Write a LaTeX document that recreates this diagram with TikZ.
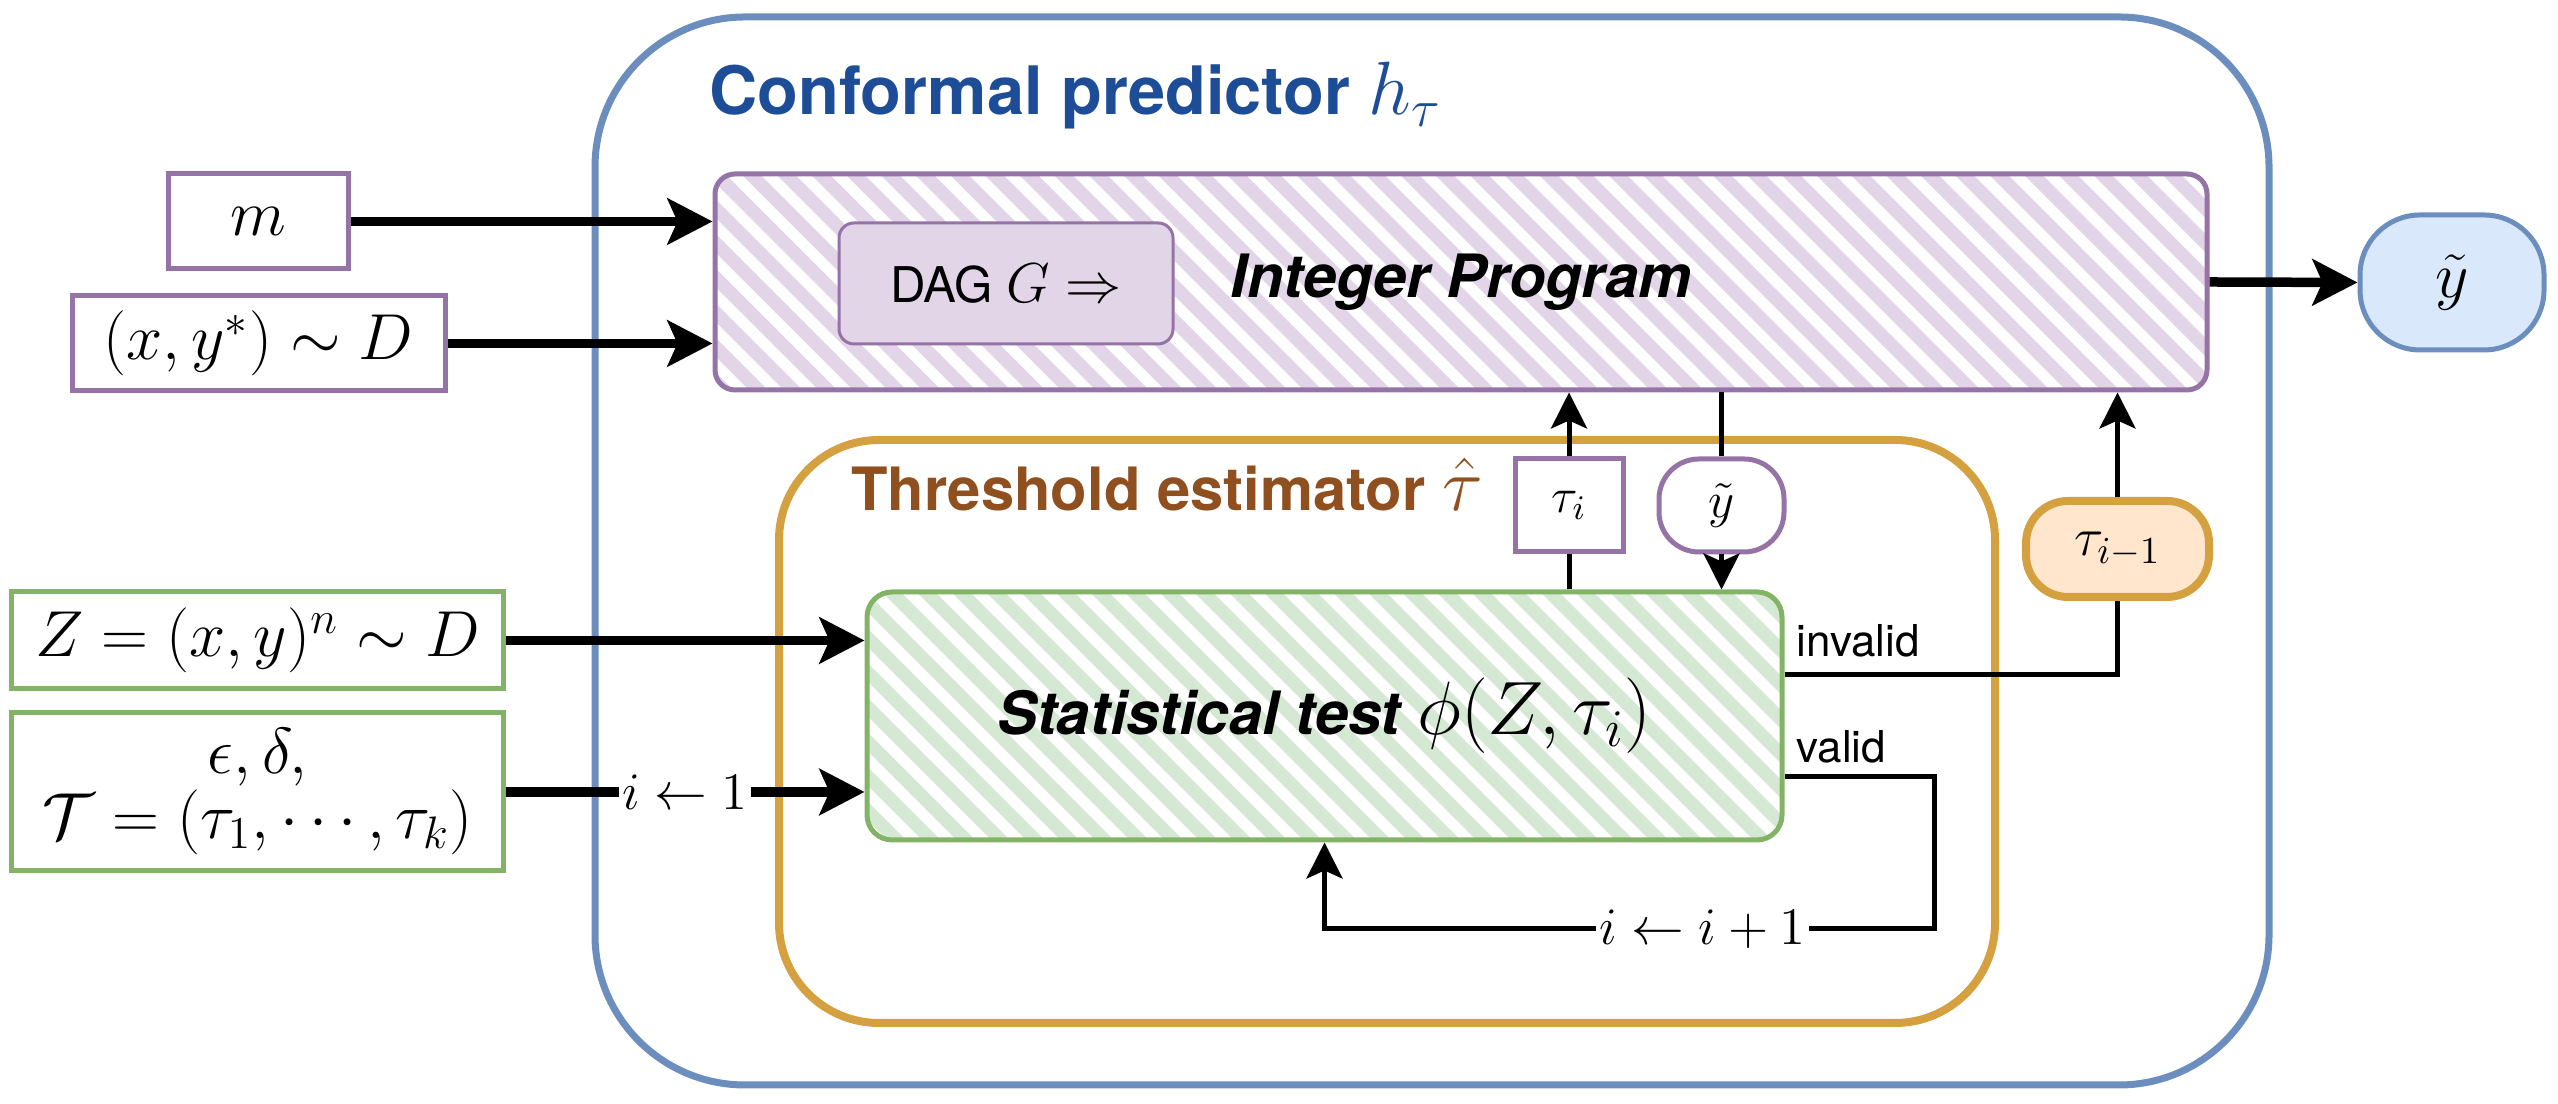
\RequirePackage{fix-cm}
\documentclass[tikz,border=0pt]{standalone}
\usepackage{fontspec}
\setsansfont{TeX Gyre Heros}
\usetikzlibrary{arrows.meta,patterns.meta}
\definecolor{bline}{HTML}{6C8EBF}
\definecolor{btitle}{HTML}{1E4D97}
\definecolor{yfill}{HTML}{DAE8FC}
\definecolor{pline}{HTML}{9673A6}
\definecolor{pfill}{HTML}{E1D5E7}
\definecolor{gline}{HTML}{82B366}
\definecolor{gfill}{HTML}{D5E8D4}
\definecolor{oline}{HTML}{D4A040}
\definecolor{otitle}{HTML}{8F4F1F}
\definecolor{tfill}{HTML}{FFE6CC}
\newcommand{\bigmath}[1]{{\fontsize{21.5}{24}\selectfont$#1$}}
\begin{document}
\begin{tikzpicture}[
        box/.style={draw, line width=0.05cm, inner sep=0pt},
        pbox/.style={box, draw=pline, fill=white},
        gbox/.style={box, draw=gline, fill=white},
        hatch/.style={preaction={fill=#1}, preaction={pattern={Lines[angle=-45,distance=0.245cm,line width=0.11cm]}, pattern color=white}},
        mathlbl/.style={font=\fontsize{18.5}{18.5}\selectfont},
        bigtxt/.style={font=\fontsize{17}{20}\selectfont\sffamily\bfseries\itshape},
        thk/.style={line width=0.095cm, -{Stealth[length=0.45cm,width=0.46cm,inset=0.1cm]}},
        thn/.style={line width=0.05cm},
        thna/.style={thn, -{Stealth[length=0.36cm,width=0.36cm,inset=0.08cm]}}]
        \useasboundingbox (0,0) rectangle (25.58,11.04);
        \draw [draw=bline, line width=0.07cm, rounded corners=1.5cm] (5.95,0.19) rectangle (22.69,10.87);
        \node [anchor=base west, text=btitle, font=\fontsize{19}{22}\selectfont\sffamily\bfseries] (ctitle) at (6.97,9.89) {Conformal predictor \bigmath{h_\tau}};
        \draw [draw=oline, line width=0.08cm, rounded corners=1cm] (7.79,0.81) rectangle (19.95,6.64);
        \node [anchor=base west, text=otitle, font=\fontsize{17}{20}\selectfont\sffamily\bfseries] (ttitle) at (8.39,5.93) {Threshold estimator \bigmath{\hat{\tau}}};
        \node [pbox, mathlbl, minimum width=1.80cm, minimum height=0.95cm] (m) at (2.58,8.825) {$m$};
        \node [pbox, mathlbl, minimum width=3.73cm, minimum height=0.95cm] (xy) at (2.585,7.605) {$(x,y^*)\sim D$};
        \node [gbox, mathlbl, minimum width=4.91cm, minimum height=0.97cm] (z) at (2.575,4.635) {$Z=(x,y)^n\sim D$};
        \node [gbox, mathlbl, align=center, minimum width=4.91cm, minimum height=1.58cm] (eps) at (2.575,3.12) {$\epsilon,\delta,$\\$\mathcal{T}=(\tau_1,\cdots,\tau_k)$};
        \node [draw=pline, line width=0.05cm, rounded corners=0.2cm, hatch=pfill, bigtxt, minimum width=14.92cm, minimum height=2.16cm] (ip) at (14.61,8.22) {Integer Program};
        \node [draw=pline, line width=0.03cm, fill=pfill, rounded corners=0.15cm, font=\fontsize{14}{16}\selectfont\sffamily, minimum width=3.34cm, minimum height=1.21cm] (dag) at (10.06,8.205) {DAG {\fontsize{16}{18}\selectfont$G\Rightarrow$}};
        \node [draw=bline, line width=0.05cm, fill=yfill, rounded corners=0.6cm, mathlbl, minimum width=1.84cm, minimum height=1.35cm] (yo) at (24.52,8.215) {$\tilde{y}$};
        \node [pbox, font=\fontsize{14}{16}\selectfont, minimum width=1.08cm, minimum height=0.93cm] (ti) at (15.69,5.985) {$\tau_i$};
        \node [pbox, rounded corners=0.4cm, font=\fontsize{14.5}{16}\selectfont, minimum width=1.25cm, minimum height=0.93cm] (ys) at (17.215,5.985) {$\tilde{y}$};
        \node [draw=oline, line width=0.08cm, fill=tfill, rounded corners=0.42cm, font=\fontsize{15.5}{18}\selectfont, minimum width=1.83cm, minimum height=0.96cm] (tprev) at (21.175,5.55) {$\tau_{i-1}$};
        \node [draw=gline, line width=0.05cm, rounded corners=0.25cm, hatch=gfill, bigtxt, minimum width=9.15cm, minimum height=2.48cm] (stat) at (13.245,3.88) {Statistical test \bigmath{\phi(Z,\tau_i)}};
        \coordinate (loopc) at (19.34,1.75);
        \draw [thk] (m.east) -- (m.east -| ip.west);
        \draw [thk] (xy.east) -- (xy.east -| ip.west);
        \draw [thk] (ip.east) -- (yo.west);
        \draw [thk] (z.east) -- (z.east -| stat.west);
        \draw [thk] (eps.east) -- (eps.east -| stat.west) node [midway, fill=white, inner sep=1pt, font=\fontsize{15}{18}\selectfont] (init) {$i\leftarrow 1$};
        \draw [thn] (stat.north -| ti.south) -- (ti.south);
        \draw [thna] (ti.north) -- (ti.north |- ip.south);
        \draw [thn] (ip.south -| ys.north) -- (ys.north);
        \draw [thna] (ys.south) -- (ys.south |- stat.north);
        \draw [thn] ([yshift=0.41cm]stat.east) -| (tprev.south);
        \draw [thna] (tprev.north) -- (tprev.north |- ip.south);
        \draw [thna] ([yshift=-0.61cm]stat.east) -| (loopc) -| (stat.south) node [pos=0.19, fill=white, inner sep=1pt, font=\fontsize{15}{18}\selectfont] (inc) {$i\leftarrow i+1$};
        \node [anchor=base west, inner sep=0pt, font=\fontsize{12.5}{14}\selectfont\sffamily] (inv) at (17.96,4.47) {invalid};
        \node [anchor=base west, inner sep=0pt, font=\fontsize{12.5}{14}\selectfont\sffamily] (val) at (17.96,3.41) {valid};
\end{tikzpicture}
\end{document}
